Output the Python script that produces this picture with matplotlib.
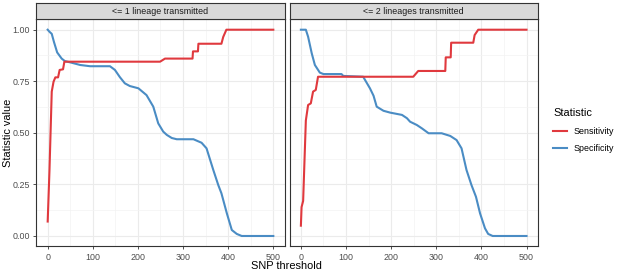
import matplotlib
matplotlib.use("Agg")
from matplotlib import pyplot as plt
from matplotlib.lines import Line2D
from matplotlib.ticker import MultipleLocator

plt.rcParams['font.family'] = ['Liberation Sans', 'DejaVu Sans']

# panel titles
panels = ['<= 1 lineage transmitted', '<= 2 lineages transmitted']

# <= 1 lineage
sens1_x = [0, 4, 9, 13, 17, 23, 26.5, 34, 37, 249, 260, 321, 322, 333, 334, 385, 389, 396, 500]
sens1_y = [0.07, 0.32, 0.70, 0.748, 0.769, 0.769, 0.805, 0.808, 0.845, 0.845, 0.86, 0.86, 0.895, 0.895,
           0.932, 0.932, 0.965, 1.0, 1.0]
spec1_x = [0, 4, 9, 14, 21, 31, 38, 53, 72, 94, 138, 149, 160, 171, 182, 201, 219, 234, 245, 256, 264,
           275, 286, 323, 341, 352, 367, 378, 385, 397, 408, 419, 430, 500]
spec1_y = [1.0, 0.99, 0.98, 0.94, 0.89, 0.86, 0.848, 0.84, 0.829, 0.823, 0.823, 0.805, 0.77, 0.74, 0.727,
           0.716, 0.683, 0.627, 0.546, 0.506, 0.49, 0.475, 0.469, 0.469, 0.452, 0.425, 0.32, 0.247, 0.207,
           0.11, 0.029, 0.01, 0.0, 0.0]

# <= 2 lineages
sens2_x = [0, 1.5, 5, 11, 16, 22, 27, 33, 38, 249, 260, 320, 321, 332, 333, 382, 385, 393, 500]
sens2_y = [0.05, 0.14, 0.17, 0.56, 0.635, 0.643, 0.70, 0.708, 0.772, 0.772, 0.80, 0.80, 0.866, 0.866,
           0.937, 0.937, 0.974, 1.0, 1.0]
spec2_x = [0, 11, 16, 24, 31, 42, 50, 90, 94, 138, 153, 161, 168, 183, 198, 224, 235, 242, 257, 268,
           283, 312, 331, 345, 356, 367, 378, 388, 397, 408, 415, 425, 500]
spec2_y = [1.0, 1.0, 0.966, 0.886, 0.829, 0.792, 0.785, 0.785, 0.776, 0.772, 0.716, 0.68, 0.627, 0.607,
           0.598, 0.587, 0.571, 0.554, 0.538, 0.522, 0.498, 0.498, 0.485, 0.465, 0.425, 0.32, 0.247,
           0.19, 0.11, 0.037, 0.01, 0.0, 0.0]

series = [(sens1_x, sens1_y, spec1_x, spec1_y), (sens2_x, sens2_y, spec2_x, spec2_y)]
red = '#E0393E'
blue = '#4A8CC4'

small = 6.4   # tick / strip / legend text
big = 7.9     # axis titles, legend title

W, H = 617, 271
fig = plt.figure(figsize=(W / 100, H / 100), dpi=100)

def fbox(l, t, r, b):
    return [l / W, 1 - b / H, (r - l) / W, (b - t) / H]

lefts = [36.4, 289.6]
width = 248.2
for i, left in enumerate(lefts):
    ax = fig.add_axes(fbox(left, 19.4, left + width, 246.3))
    sx, sy, px, py = series[i]
    ax.plot(px, py, color=blue, lw=1.5, solid_joinstyle='round', zorder=3)
    ax.plot(sx, sy, color=red, lw=1.5, solid_joinstyle='round', zorder=3)
    ax.set_xlim(-25, 525)
    ax.set_ylim(-0.05, 1.05)
    ax.xaxis.set_major_locator(MultipleLocator(100))
    ax.xaxis.set_minor_locator(MultipleLocator(50))
    ax.yaxis.set_major_locator(MultipleLocator(0.25))
    ax.yaxis.set_minor_locator(MultipleLocator(0.125))
    ax.yaxis.set_major_formatter(plt.FuncFormatter(lambda v, p: '%.2f' % v))
    ax.grid(which='major', color='#EBEBEB', lw=0.8)
    ax.grid(which='minor', color='#F3F3F3', lw=0.5)
    ax.set_axisbelow(True)
    for s in ax.spines.values():
        s.set_color('#333333')
        s.set_linewidth(0.8)
    ax.tick_params(which='major', length=2.5, width=0.6, color='#333333', labelsize=small,
                   labelcolor='#4D4D4D', pad=2)
    ax.tick_params(which='minor', length=0)
    if i > 0:
        ax.tick_params(axis='y', labelleft=False, length=0)
    # strip
    sax = fig.add_axes(fbox(left, 3, left + width, 19.4))
    sax.set_facecolor('#D9D9D9')
    sax.set_xticks([])
    sax.set_yticks([])
    for s in sax.spines.values():
        s.set_color('#333333')
        s.set_linewidth(0.8)
    sax.text(0.5, 0.48, panels[i], ha='center', va='center', fontsize=small, color='#1A1A1A',
             transform=sax.transAxes)

fig.text(286.7 / W, 1 - 266 / H, 'SNP threshold', ha='center', va='center', fontsize=big)
fig.text(8.5 / W, 1 - 132.8 / H, 'Statistic value', ha='center', va='center', rotation=90, fontsize=big)

handles = [Line2D([], [], color=red, lw=1.5), Line2D([], [], color=blue, lw=1.5)]
leg = fig.legend(handles, ['Sensitivity', 'Specificity'], title='Statistic', loc='upper left',
                 bbox_to_anchor=(553 / W, 1 - 108.5 / H), frameon=False, fontsize=small,
                 title_fontsize=big, handlelength=1.6, handletextpad=0.7, labelspacing=0.95,
                 alignment='left', borderaxespad=0, borderpad=0)

fig.savefig('out.png', dpi=100)
